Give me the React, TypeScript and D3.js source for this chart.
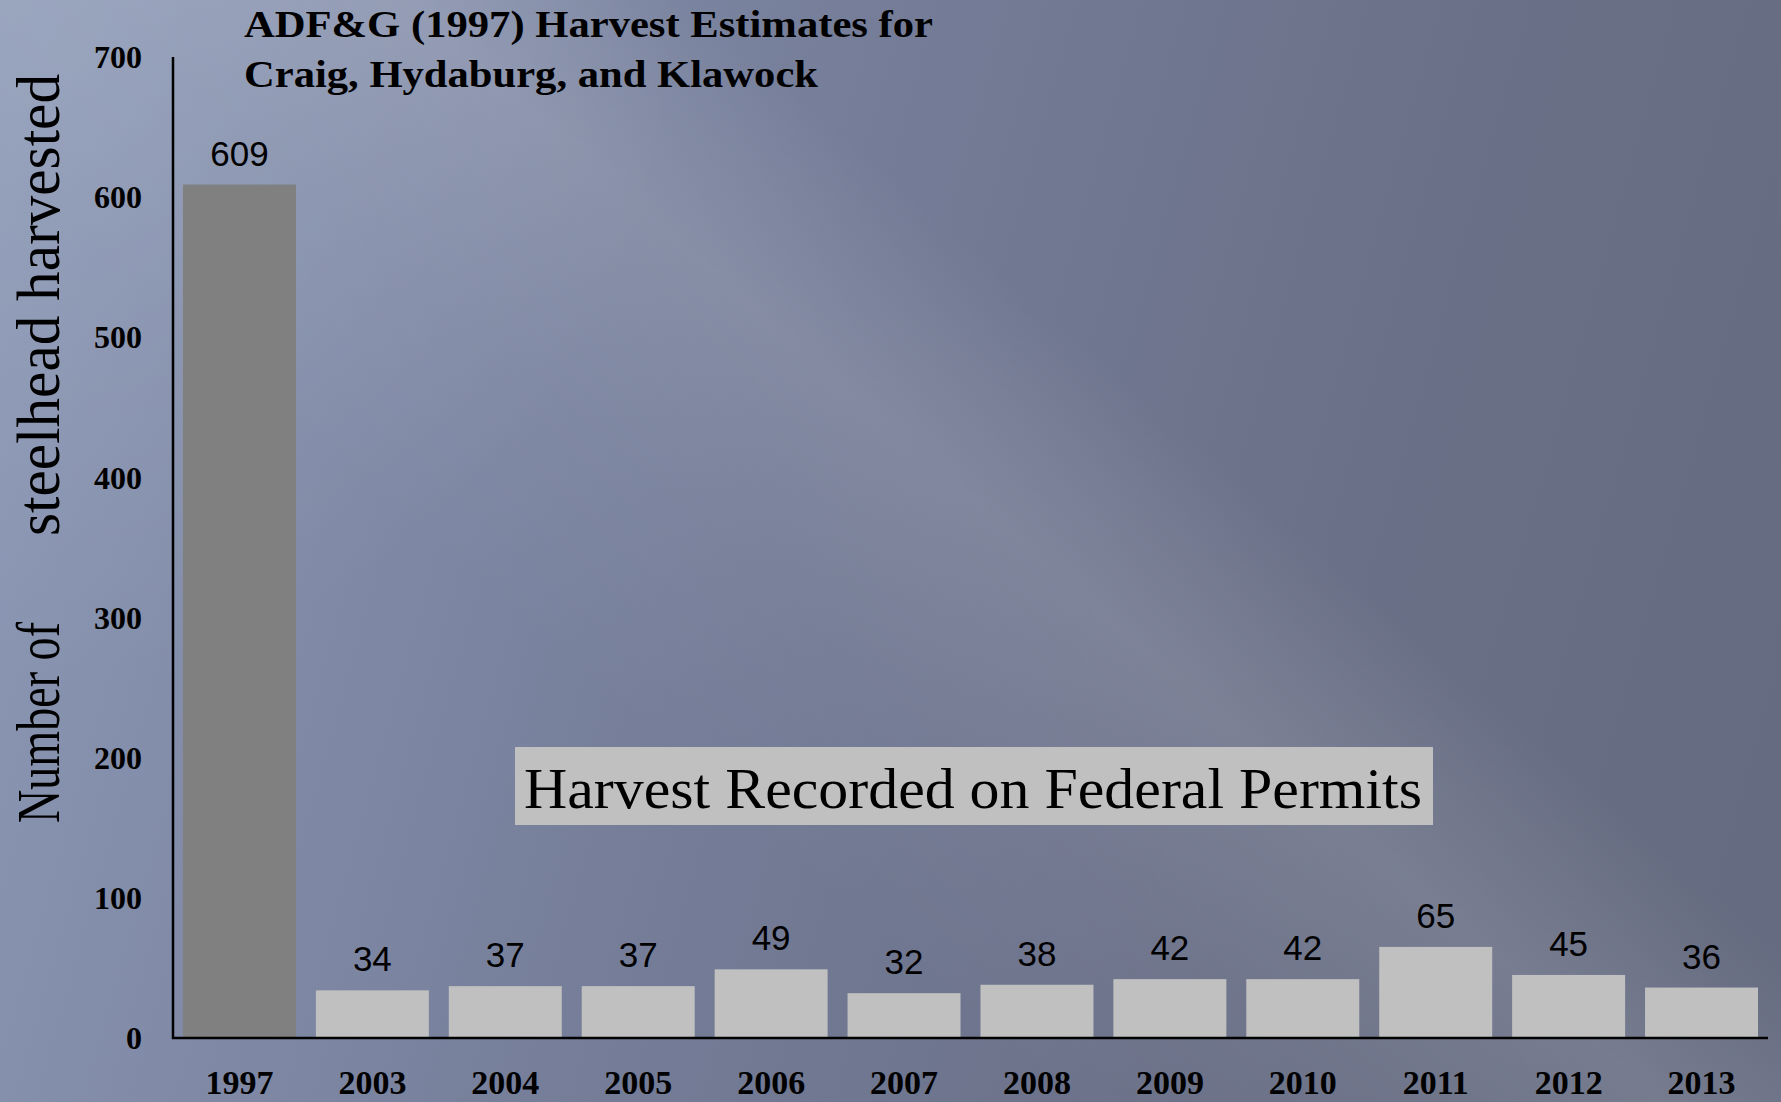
import React from "react";
import * as d3 from "d3";

const years = ["1997", "2003", "2004", "2005", "2006", "2007", "2008", "2009", "2010", "2011", "2012", "2013"];
const harvest = [609, 34, 37, 37, 49, 32, 38, 42, 42, 65, 45, 36];
const yTicks = [0, 100, 200, 300, 400, 500, 600, 700];
const titleLines = ["ADF&G (1997) Harvest Estimates for", "Craig, Hydaburg, and Klawock"];
const titleWidths = [689, 574];
const yAxisTitleParts = ["Number of", "steelhead harvested"];
const annotation = "Harvest Recorded on Federal Permits";

const W = 1781;
const H = 1102;

export default function App() {
  const x = d3.scaleBand<string>().domain(years).range([173, 1768]).paddingInner(0.15).paddingOuter(0.075);
  const y = d3.scaleLinear().domain([0, 700]).range([1038, 57]);

  return (
    <svg width={W} height={H} style={{ position: "absolute", left: 0, top: 0 }}>
      <defs>
        <linearGradient id="bg" gradientUnits="userSpaceOnUse" x1="0" y1="200" x2="1781" y2="700">
          <stop offset="0" stopColor="#8c98b5" />
          <stop offset="0.45" stopColor="#747c97" />
          <stop offset="0.75" stopColor="#6a7087" />
          <stop offset="1" stopColor="#656b80" />
        </linearGradient>
        <linearGradient id="beam" gradientUnits="userSpaceOnUse" x1="437" y1="561" x2="963" y2="-41">
          <stop offset="0" stopColor="#ffffff" stopOpacity="0" />
          <stop offset="0.25" stopColor="#ffffff" stopOpacity="0.04" />
          <stop offset="0.5" stopColor="#ffffff" stopOpacity="0.11" />
          <stop offset="0.62" stopColor="#ffffff" stopOpacity="0.06" />
          <stop offset="0.74" stopColor="#ffffff" stopOpacity="0" />
          <stop offset="1" stopColor="#ffffff" stopOpacity="0" />
        </linearGradient>
        <radialGradient id="corner" gradientUnits="userSpaceOnUse" cx="0" cy="0" r="700">
          <stop offset="0" stopColor="#ffffff" stopOpacity="0.1" />
          <stop offset="1" stopColor="#ffffff" stopOpacity="0" />
        </radialGradient>
      </defs>
      <rect x={0} y={0} width={W} height={H} fill="url(#bg)" />
      <rect x={0} y={0} width={W} height={H} fill="url(#beam)" />
      <rect x={0} y={0} width={W} height={H} fill="url(#corner)" />

      {/* bars */}
      {years.map((yr, i) => (
        <g key={yr}>
          <rect
            x={x(yr)}
            y={y(harvest[i])}
            width={x.bandwidth()}
            height={y(0) - y(harvest[i])}
            fill={i === 0 ? "#808080" : "#c0c0c0"}
          />
          <text
            x={(x(yr) as number) + x.bandwidth() / 2}
            y={y(harvest[i]) - 19}
            textAnchor="middle"
            fontFamily="Liberation Sans, Arial, sans-serif"
            fontSize={35}
            fill="#000"
          >
            {harvest[i]}
          </text>
          <text
            x={(x(yr) as number) + x.bandwidth() / 2}
            y={1094}
            textAnchor="middle"
            fontFamily="Liberation Serif, Times New Roman, serif"
            fontWeight="bold"
            fontSize={34}
            fill="#000"
          >
            {yr}
          </text>
        </g>
      ))}

      {/* y ticks */}
      {yTicks.map((t) => (
        <text
          key={t}
          x={142}
          y={y(t)}
          dy="0.35em"
          textAnchor="end"
          fontFamily="Liberation Serif, Times New Roman, serif"
          fontWeight="bold"
          fontSize={32}
          fill="#000"
        >
          {t}
        </text>
      ))}

      {/* axes */}
      <line x1={173} y1={y(700)} x2={173} y2={y(0) + 1} stroke="#000" strokeWidth={2.5} />
      <line x1={172} y1={y(0)} x2={1768} y2={y(0)} stroke="#000" strokeWidth={2.5} />

      {/* title */}
      {titleLines.map((l, i) => (
        <text
          key={i}
          x={244}
          y={37 + i * 50}
          fontFamily="Liberation Serif, Times New Roman, serif"
          fontWeight="bold"
          fontSize={38}
          textLength={titleWidths[i]}
          lengthAdjust="spacingAndGlyphs"
          fill="#000"
        >
          {l}
        </text>
      ))}

      {/* y axis title */}
      <g transform="translate(59, 0) rotate(-90)">
        <text
          x={-823}
          y={0}
          fontFamily="Liberation Serif, Times New Roman, serif"
          fontSize={62}
          textLength={201}
          lengthAdjust="spacingAndGlyphs"
          fill="#000"
        >
          {yAxisTitleParts[0]}
        </text>
        <text
          x={-536}
          y={0}
          fontFamily="Liberation Serif, Times New Roman, serif"
          fontSize={62}
          textLength={462}
          lengthAdjust="spacingAndGlyphs"
          fill="#000"
        >
          {yAxisTitleParts[1]}
        </text>
      </g>

      {/* annotation */}
      <rect x={515} y={747} width={918} height={78} fill="#c0c0c0" />
      <text
        x={524}
        y={808}
        fontFamily="Liberation Serif, Times New Roman, serif"
        fontSize={58}
        textLength={898}
        lengthAdjust="spacingAndGlyphs"
        fill="#000"
      >
        {annotation}
      </text>
    </svg>
  );
}
